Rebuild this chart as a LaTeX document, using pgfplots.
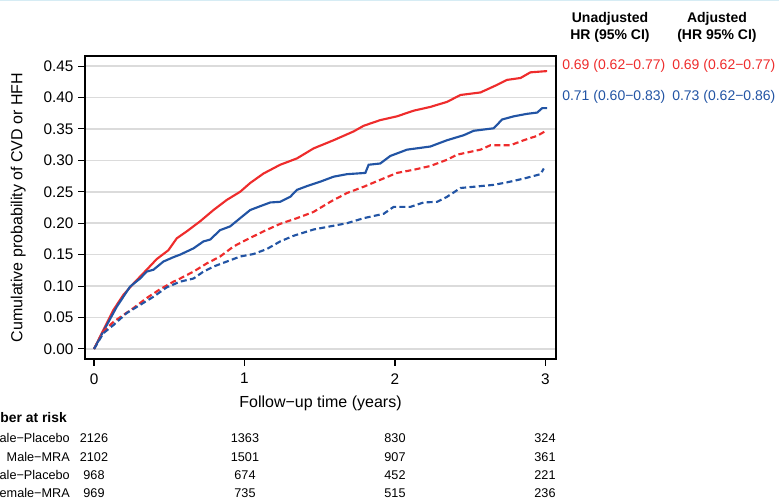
\documentclass[border=0pt]{standalone}
\usepackage{fontspec}
\setmainfont{Liberation Sans}
\usepackage{graphicx}
\usepackage{pgfplots}
\pgfplotsset{compat=1.18}
\definecolor{kmred}{RGB}{238,44,44}
\definecolor{kmblue}{RGB}{34,84,164}
\definecolor{topline}{RGB}{214,236,244}
\begin{document}
\begin{tikzpicture}[x=0.75pt,y=0.75pt]
\useasboundingbox (0,0) rectangle (779,498);
\draw[topline, line width=1pt] (0,497.6) -- (779,497.6);
\begin{axis}[
  at={(63.75pt,104.25pt)}, anchor=south west,
  scale only axis, width=353.25pt, height=227.25pt,
  xmin=-0.06, xmax=3.07, ymin=-0.016, ymax=0.466,
  xtick={0,1,2,3}, xticklabels={0,1,2,3},
  ytick={0,0.05,0.10,0.15,0.20,0.25,0.30,0.35,0.40,0.45},
  yticklabels={0.00,0.05,0.10,0.15,0.20,0.25,0.30,0.35,0.40,0.45},
  xtick pos=bottom, ytick pos=left,
  tick align=outside, major tick length=5.2pt,
  tick style={black, line width=0.8pt},
  axis line style={black, line width=1pt},
  ymajorgrids, grid style={black!14, line width=1.1pt},
  ticklabel style={font=\fontsize{11.5}{13}\selectfont},
  xticklabel style={yshift=-2pt},
  /pgf/number format/assume math mode=true,
  xlabel={Follow−up time (years)},
  ylabel={Cumulative probability of CVD or HFH},
  label style={font=\fontsize{12}{14}\selectfont},
  xlabel style={at={(axis description cs:0.5,0)}, anchor=center, yshift=-33pt},
  ylabel style={at={(axis description cs:-0.142,0.5)}, anchor=center},
  clip=false,
]
% Male-Placebo (red solid)
\addplot[kmred, line width=1.6pt] coordinates {
(0,0) (0.062,0.030) (0.129,0.062) (0.195,0.086) (0.262,0.104) (0.350,0.126)
(0.417,0.143) (0.494,0.157) (0.550,0.176) (0.616,0.187) (0.705,0.203)
(0.794,0.221) (0.882,0.237) (0.971,0.250) (1.038,0.264) (1.126,0.279)
(1.237,0.293) (1.348,0.303) (1.459,0.319) (1.592,0.332) (1.725,0.346)
(1.792,0.355) (1.902,0.364) (2.013,0.370) (2.124,0.379) (2.235,0.385)
(2.346,0.393) (2.435,0.404) (2.568,0.408) (2.678,0.420) (2.745,0.428)
(2.834,0.431) (2.900,0.440) (3.011,0.442)};
% Female-Placebo (blue solid)
\addplot[kmblue, line width=1.6pt] coordinates {
(0,0) (0.062,0.028) (0.151,0.067) (0.239,0.099) (0.306,0.112) (0.350,0.123)
(0.395,0.126) (0.461,0.139) (0.528,0.146) (0.572,0.150) (0.661,0.160)
(0.727,0.171) (0.772,0.174) (0.838,0.189) (0.905,0.195) (0.971,0.208)
(1.038,0.221) (1.104,0.227) (1.171,0.233) (1.237,0.234) (1.304,0.242)
(1.348,0.253) (1.415,0.259) (1.503,0.266) (1.592,0.274) (1.681,0.278)
(1.803,0.280) (1.825,0.293) (1.902,0.295) (1.969,0.307) (2.080,0.317)
(2.235,0.322) (2.346,0.332) (2.457,0.340) (2.523,0.347) (2.656,0.351)
(2.712,0.365) (2.789,0.370) (2.878,0.374) (2.945,0.376) (2.978,0.383)
(3.011,0.383)};
% Male-MRA (red dashed)
\addplot[kmred, line width=1.6pt, dash pattern=on 4.5pt off 2.5pt] coordinates {
(0,0) (0.062,0.028) (0.129,0.043) (0.195,0.054) (0.262,0.065) (0.350,0.081)
(0.439,0.095) (0.528,0.107) (0.572,0.112) (0.661,0.123) (0.749,0.136)
(0.838,0.147) (0.927,0.163) (1.016,0.174) (1.126,0.187) (1.237,0.199)
(1.348,0.208) (1.459,0.218) (1.570,0.234) (1.681,0.248) (1.792,0.258)
(1.902,0.269) (2.013,0.280) (2.124,0.285) (2.235,0.291) (2.346,0.301)
(2.412,0.309) (2.568,0.317) (2.634,0.324) (2.767,0.324) (2.856,0.332)
(2.945,0.339) (3.011,0.348)};
% Female-MRA (blue dashed)
\addplot[kmblue, line width=1.6pt, dash pattern=on 4.5pt off 2.5pt] coordinates {
(0,0) (0.062,0.025) (0.129,0.038) (0.217,0.057) (0.306,0.070) (0.395,0.083)
(0.483,0.098) (0.572,0.107) (0.661,0.112) (0.727,0.123) (0.794,0.131)
(0.882,0.139) (0.971,0.147) (1.060,0.151) (1.149,0.159) (1.237,0.171)
(1.326,0.180) (1.459,0.190) (1.570,0.195) (1.681,0.200) (1.792,0.208)
(1.925,0.215) (1.991,0.226) (2.102,0.226) (2.191,0.233) (2.279,0.234)
(2.346,0.242) (2.435,0.256) (2.568,0.259) (2.656,0.261) (2.745,0.265)
(2.856,0.271) (2.967,0.278) (2.989,0.287)};
\end{axis}
% HR header
\begin{scope}[every node/.style={font=\fontsize{10.5}{12}\selectfont\bfseries, inner sep=0pt}]
\node at (610,479) {Unadjusted};
\node at (610,462) {HR (95\% CI)};
\node at (717,479) {Adjusted};
\node at (717,462) {(HR 95\% CI)};
\end{scope}
\begin{scope}[every node/.style={font=\fontsize{10.5}{12}\selectfont, inner sep=0pt, anchor=west}]
\node[text=kmred] at (562,432) {0.69 (0.62−0.77)};
\node[text=kmred] at (672,432) {0.69 (0.62−0.77)};
\node[text=kmblue] at (562,401) {0.71 (0.60−0.83)};
\node[text=kmblue] at (672,401) {0.73 (0.62−0.86)};
\end{scope}
% Number at risk table
\begin{scope}[every node/.style={font=\fontsize{9.5}{11}\selectfont, inner sep=0pt}]
\node[anchor=east, font=\fontsize{10.4}{12}\selectfont\bfseries] at (67,80) {Number at risk};
\node[anchor=east] at (70,60) {Male−Placebo};
\node[anchor=east] at (70,41) {Male−MRA};
\node[anchor=east] at (70,23) {Female−Placebo};
\node[anchor=east] at (70,5) {Female−MRA};
\node at (94,60) {2126}; \node at (245,60) {1363}; \node at (395,60) {830}; \node at (545,60) {324};
\node at (94,41) {2102}; \node at (245,41) {1501}; \node at (395,41) {907}; \node at (545,41) {361};
\node at (94,23) {968};  \node at (245,23) {674};  \node at (395,23) {452}; \node at (545,23) {221};
\node at (94,5) {969};   \node at (245,5) {735};   \node at (395,5) {515}; \node at (545,5) {236};
\end{scope}
\end{tikzpicture}
\end{document}
